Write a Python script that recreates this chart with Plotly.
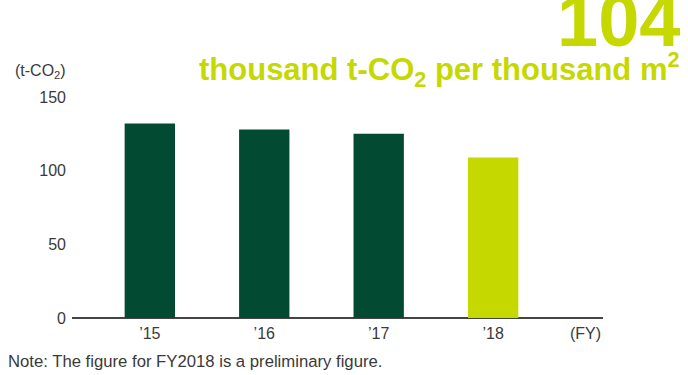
import plotly.graph_objects as go

categories = ["’15", "’16", "’17", "’18"]
values = [132, 128, 125, 109]
colors = ["#034a33", "#034a33", "#034a33", "#c5d800"]
y_ticks = [0, 50, 100, 150]

FONT = "Liberation Sans, Arial, sans-serif"
BODY = "Liberation Sans, Arial, sans-serif"
TXT = "#3a3a3a"

fig = go.Figure(go.Bar(x=categories, y=values, marker=dict(color=colors, line=dict(width=0)),
                       width=0.44))

fig.update_layout(
    width=688, height=375,
    margin=dict(l=72, r=85, t=97, b=57),
    paper_bgcolor="white", plot_bgcolor="white",
    showlegend=False,
    font=dict(family=BODY, size=16, color=TXT),
    xaxis=dict(range=[-0.68, 3.96], showgrid=False, zeroline=False, showline=False,
               ticks="", ticklabelstandoff=4, tickfont=dict(size=16, color=TXT)),
    yaxis=dict(range=[0, 150], tickvals=y_ticks, showgrid=False, zeroline=True,
               zerolinecolor="#444444", zerolinewidth=2, showline=False, ticks="",
               ticklabelstandoff=5, tickfont=dict(size=16, color=TXT)),
    annotations=[
        dict(text="(t-CO<sub>2</sub>)", xref="paper", yref="paper", x=-0.008, y=1.0,
             xanchor="right", yanchor="bottom", yshift=14, showarrow=False,
             font=dict(size=16, color=TXT)),
        dict(text="(FY)", xref="paper", yref="paper", x=1.0, y=0, xanchor="right",
             yanchor="top", yshift=-5, showarrow=False, font=dict(size=16, color=TXT)),
        dict(text="Note: The figure for FY2018 is a preliminary figure.", xref="paper",
             yref="paper", x=-66/531, y=0, xanchor="left", yanchor="top", yshift=-32,
             showarrow=False, font=dict(size=16.7, color=TXT)),
        dict(text="<b>104</b>", xref="paper", yref="paper", x=1.0, xshift=79, y=1.0,
             yshift=33, xanchor="right", yanchor="bottom", showarrow=False,
             font=dict(family=FONT, size=74, color="#c5d800")),
        dict(text="<b>thousand t-CO<sub>2</sub> per thousand m<sup>2</sup></b>", xref="paper",
             yref="paper", x=1.0, xshift=79, y=1.0, yshift=3, xanchor="right",
             yanchor="bottom", showarrow=False,
             font=dict(family=FONT, size=31, color="#c5d800")),
    ],
)

fig.write_html("out.html")
